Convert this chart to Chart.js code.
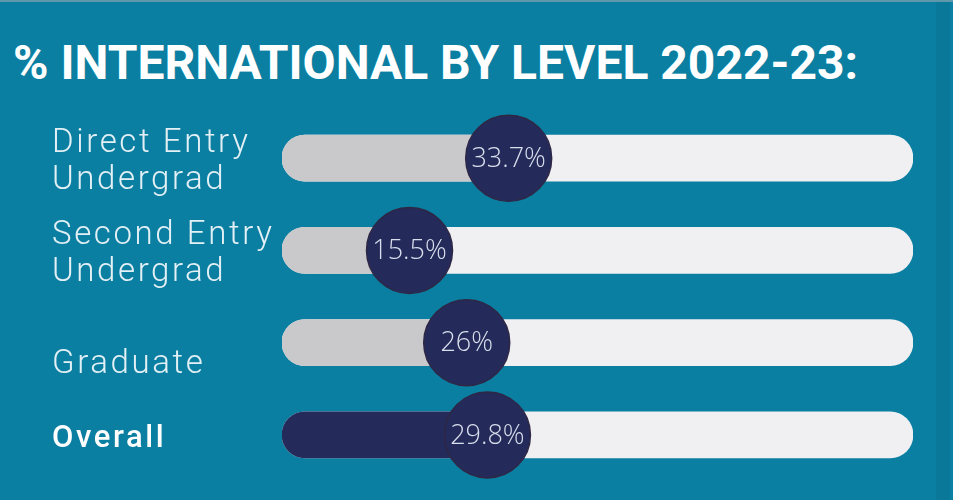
<!DOCTYPE html>
<html>
<head>
<meta charset="utf-8">
<script src="https://cdn.jsdelivr.net/npm/chart.js@4.4.1/dist/chart.umd.min.js"></script>
<style>
  html,body{margin:0;padding:0;background:#0b7fa2;}
  #wrap{position:relative;width:953px;height:500px;overflow:hidden;
    background:linear-gradient(to right,#0b7fa2 0,#0b7fa2 936px,#0a7999 936px,#0a7999 950px,#0c80a2 950px);}
  #wrap:before{content:"";position:absolute;left:0;top:0;width:100%;height:2px;background:#5f98aa;}
  #title{position:absolute;left:13px;top:33px;margin:0;color:#fff;
    font-family:"Roboto",sans-serif;font-weight:700;font-size:48px;
    line-height:60px;white-space:nowrap;}
  canvas{position:absolute;left:0;top:0;}
</style>
</head>
<body>
<div id="wrap">
  <h1 id="title">% INTERNATIONAL BY LEVEL 2022-23:</h1>
  <canvas id="chart" width="953" height="500"></canvas>
</div>
<script>
// categories (Graduate sits on the lower line in the original)
const LEVELS = [["Direct Entry", "Undergrad"], ["Second Entry", "Undergrad"], ["", "Graduate"], "Overall"];
const PCT_INTL = [33.7, 15.5, 26, 29.8];
const VALUE_LABELS = ["33.7%", "15.5%", "26%", "29.8%"];

const NAVY = "#242b5a";
const GREY = "#c9c9cc";
const TRACK = "#f0f0f2";

// the knob travels inside the track, so pad the scale by its radius
const THUMB_R = 43;
const PAD = 7.9;
const X_MIN = -PAD, X_MAX = 100 + PAD;

// wider tracking for the category labels only
const labelSpacing = {
  id: "labelSpacing",
  beforeDraw(chart){ chart.ctx.letterSpacing = "2.6px"; },
  beforeDatasetsDraw(chart){ chart.ctx.letterSpacing = "0px"; }
};

const valueText = {
  id: "valueText",
  afterDatasetsDraw(chart){
    const meta = chart.getDatasetMeta(0);
    const ctx = chart.ctx;
    ctx.save();
    ctx.fillStyle = "#d8deec";
    ctx.font = "300 27px 'Open Sans', sans-serif";
    ctx.textAlign = "center";
    ctx.textBaseline = "middle";
    meta.data.forEach((pt, i) => {
      ctx.fillText(VALUE_LABELS[i], pt.x, pt.y + 1);
    });
    ctx.restore();
  }
};

new Chart(document.getElementById("chart"), {
  type: "bar",
  data: {
    labels: LEVELS,
    datasets: [
      {
        type: "line",
        data: PCT_INTL,
        showLine: false,
        pointRadius: THUMB_R,
        pointHoverRadius: THUMB_R,
        pointBackgroundColor: NAVY,
        pointBorderColor: "#2e2746",
        pointBorderWidth: 1.5,
        clip: false,
        order: 0
      },
      {
        data: PCT_INTL.map(v => [X_MIN, v]),
        backgroundColor: ctx => ctx.dataIndex === 3 ? NAVY : GREY,
        borderRadius: {topLeft: 23, bottomLeft: 23, topRight: 0, bottomRight: 0},
        borderSkipped: false,
        barThickness: 46,
        grouped: false,
        order: 1
      },
      {
        data: PCT_INTL.map(() => [X_MIN, X_MAX]),
        backgroundColor: TRACK,
        borderRadius: 23,
        borderSkipped: false,
        barThickness: 46,
        grouped: false,
        order: 2
      }
    ]
  },
  plugins: [labelSpacing, valueText],
  options: {
    indexAxis: "y",
    responsive: false,
    animation: false,
    events: [],
    layout: {autoPadding: false, padding: {left: 52, right: 40, top: 112, bottom: 19}},
    plugins: {legend: {display: false}, tooltip: {enabled: false}},
    scales: {
      x: {display: false, min: X_MIN, max: X_MAX},
      y: {
        grid: {display: false},
        border: {display: false},
        afterFit: s => { s.width = 230; s.paddingTop = 0; s.paddingBottom = 0; },
        ticks: {
          crossAlign: "far",
          padding: 0,
          labelOffset: 4,
          color: c => c.index === 3 ? "#ffffff" : "#e3f0f5",
          font: c => ({
            family: "Roboto, sans-serif",
            size: c.index === 3 ? 31 : 33,
            weight: c.index === 3 ? 500 : 300,
            lineHeight: 1.12
          })
        }
      }
    }
  }
});
</script>
</body>
</html>
